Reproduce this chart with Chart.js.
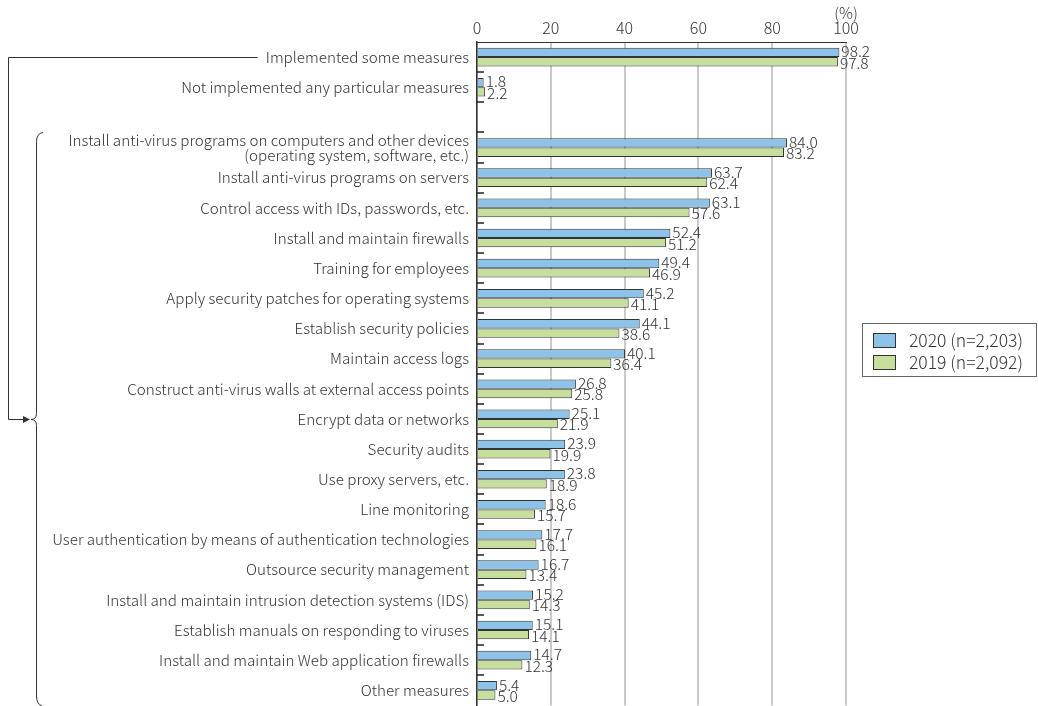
<!DOCTYPE html>
<html>
<head>
<meta charset="utf-8">
<script src="https://cdn.jsdelivr.net/npm/chart.js@4"></script>
<style>
  body { margin: 0; overflow: hidden; background: #fff; }
  #wrap { position: relative; width: 1038px; height: 706px; overflow: hidden; }
  #legend {
    position: absolute; left: 862px; top: 323px; width: 175px; height: 54px;
    border: 1px solid #666; box-sizing: border-box;
    font-family: "Noto Sans CJK JP", "Noto Sans", sans-serif; font-size: 17.5px; font-weight: 300; color: #333;
  }
  #legend div { position: absolute; left: 10px; height: 18px; line-height: 18px; white-space: nowrap; }
  #legend span.box { display: inline-block; width: 21px; height: 13px; border: 1px solid #333; vertical-align: -1px; margin-right: 13px; }
</style>
</head>
<body>
<div id="wrap">
  <canvas id="measures" width="1038" height="721"></canvas>
  <div id="legend"></div>
</div>
<script>
const labels = [
  'Implemented some measures',
  'Not implemented any particular measures',
  '',
  ['Install anti-virus programs on computers and other devices', '(operating system, software, etc.)'],
  'Install anti-virus programs on servers',
  'Control access with IDs, passwords, etc.',
  'Install and maintain firewalls',
  'Training for employees',
  'Apply security patches for operating systems',
  'Establish security policies',
  'Maintain access logs',
  'Construct anti-virus walls at external access points',
  'Encrypt data or networks',
  'Security audits',
  'Use proxy servers, etc.',
  'Line monitoring',
  'User authentication by means of authentication technologies',
  'Outsource security management',
  'Install and maintain intrusion detection systems (IDS)',
  'Establish manuals on responding to viruses',
  'Install and maintain Web application firewalls',
  'Other measures'
]
const values2020 = [98.2, 1.8, null, 84.0, 63.7, 63.1, 52.4, 49.4, 45.2, 44.1, 40.1, 26.8, 25.1, 23.9, 23.8, 18.6, 17.7, 16.7, 15.2, 15.1, 14.7, 5.4]
const values2019 = [97.8, 2.2, null, 83.2, 62.4, 57.6, 51.2, 46.9, 41.1, 38.6, 36.4, 25.8, 21.9, 19.9, 18.9, 15.7, 16.1, 13.4, 14.3, 14.1, 12.3, 5.0]
const seriesNames = ['2020 (n=2,203)', '2019 (n=2,092)']
const xTicks = [0, 20, 40, 60, 80, 100]

const FONT = '"Noto Sans CJK JP", "Noto Sans", sans-serif'
const BLUE = '#8dc3e8'
const GREEN = '#c6df9c'
const INK = '#333333'

// numbers at the end of each bar
const valueLabels = {
  id: 'valueLabels',
  afterDatasetsDraw(chart) {
    const ctx = chart.ctx
    ctx.save()
    ctx.font = '300 15.5px ' + FONT
    ctx.fillStyle = INK
    ctx.textBaseline = 'middle'
    chart.data.datasets.forEach((ds, di) => {
      chart.getDatasetMeta(di).data.forEach((bar, i) => {
        const v = ds.data[i]
        if (v == null) return
        ctx.fillText(v.toFixed(1), bar.x + 2, bar.y + (di === 0 ? -1 : 1))
      })
    })
    ctx.restore()
  }
}

// short ticks between categories, "(%)" unit and the bracket on the left
const decorations = {
  id: 'decorations',
  afterDraw(chart) {
    const ctx = chart.ctx
    const y = chart.scales.y
    const x = chart.scales.x
    const left = chart.chartArea.left
    ctx.save()
    ctx.strokeStyle = '#222'
    ctx.lineWidth = 1.5
    for (let i = 1; i < labels.length; i++) {
      const yy = Math.round((y.getPixelForValue(i - 1) + y.getPixelForValue(i)) / 2)
      ctx.beginPath()
      ctx.moveTo(left, yy)
      ctx.lineTo(left + 7, yy)
      ctx.stroke()
    }

    ctx.lineWidth = 1
    ctx.strokeStyle = INK
    ctx.font = '300 15.5px ' + FONT
    ctx.fillStyle = INK
    ctx.textAlign = 'center'
    ctx.textBaseline = 'middle'
    ctx.fillText('(%)', x.getPixelForValue(100), 13)

    // connector from the first row to the brace
    ctx.font = '300 15.2px ' + FONT
    const w = ctx.measureText(labels[0]).width
    const y0 = Math.round(y.getPixelForValue(0)) + 0.5
    const top = (y.getPixelForValue(2) + y.getPixelForValue(3)) / 2
    const bottom = 704
    const mid = Math.round((y.getPixelForValue(3) + y.getPixelForValue(labels.length - 1)) / 2) + 0.5
    const lx = 8.5
    ctx.beginPath()
    ctx.moveTo(left - 8 - w - 8, y0)
    ctx.lineTo(lx, y0)
    ctx.lineTo(lx, mid)
    ctx.lineTo(26, mid)
    ctx.stroke()
    ctx.beginPath()
    ctx.moveTo(30, mid)
    ctx.lineTo(23, mid - 3.5)
    ctx.lineTo(23, mid + 3.5)
    ctx.closePath()
    ctx.fill()

    // brace
    const bx = 36.5
    ctx.beginPath()
    ctx.moveTo(43, top)
    ctx.quadraticCurveTo(bx, top + 1, bx, top + 9)
    ctx.lineTo(bx, mid - 6)
    ctx.quadraticCurveTo(bx, mid, 31, mid)
    ctx.quadraticCurveTo(bx, mid, bx, mid + 6)
    ctx.lineTo(bx, bottom - 8)
    ctx.quadraticCurveTo(bx, bottom, 42, bottom + 2)
    ctx.stroke()
    ctx.restore()
  }
}

new Chart(document.getElementById('measures'), {
  type: 'bar',
  data: {
    labels: labels,
    datasets: [
      { label: seriesNames[0], data: values2020, backgroundColor: BLUE, borderColor: INK, borderWidth: 1 },
      { label: seriesNames[1], data: values2019, backgroundColor: GREEN, borderColor: INK, borderWidth: 1 }
    ]
  },
  options: {
    indexAxis: 'y',
    responsive: false,
    animation: false,
    layout: { padding: { left: 0, right: 192, top: 0, bottom: 2 } },
    datasets: { bar: { categoryPercentage: 0.62, barPercentage: 1.0 } },
    plugins: { legend: { display: false }, tooltip: { enabled: false } },
    scales: {
      x: {
        position: 'top',
        min: 0, max: 100,
        afterFit(scale) { scale.height = 42 },
        afterBuildTicks(scale) { scale.ticks = xTicks.map(v => ({ value: v })) },
        grid: { color: '#c9c9c9', lineWidth: 2, drawTicks: false },
        border: { color: INK, width: 1 },
        ticks: { font: { family: FONT, size: 16, weight: 300 }, color: INK, padding: 4 }
      },
      y: {
        afterFit(scale) { scale.width = 477 },
        grid: { display: false, drawTicks: false },
        border: { color: INK, width: 1.5 },
        ticks: { autoSkip: false, font: { family: FONT, size: 15.2, weight: 300, lineHeight: 1.0 }, color: INK, padding: 8 }
      }
    }
  },
  plugins: [valueLabels, decorations]
})

// legend box from the dataset settings
const legend = document.getElementById('legend')
;[[seriesNames[0], BLUE, 7], [seriesNames[1], GREEN, 29]].forEach(([name, color, top]) => {
  const row = document.createElement('div')
  row.style.top = top + 'px'
  row.innerHTML = '<span class="box" style="background:' + color + '"></span>' + name
  legend.appendChild(row)
})
</script>
</body>
</html>
